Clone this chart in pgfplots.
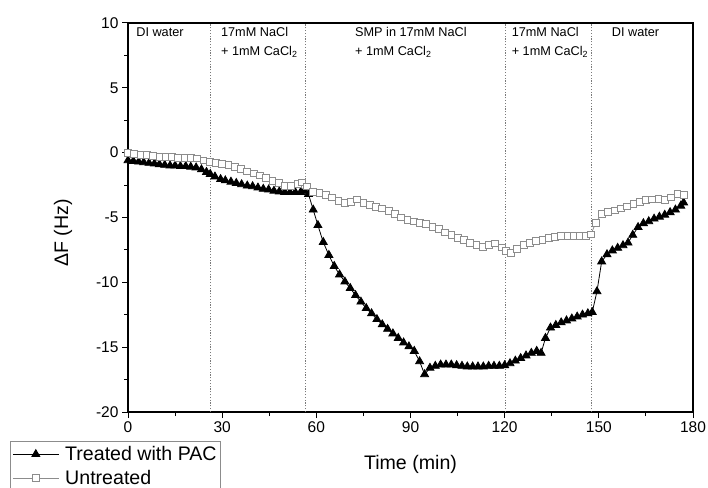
\documentclass[border=0pt]{standalone}
\usepackage{pgfplots}
\pgfplotsset{compat=1.18}
\usepackage{fontspec}
\setmainfont{Liberation Sans}
\definecolor{untr}{HTML}{8C8C8C}
\definecolor{vline}{HTML}{7A7A7A}
\begin{document}
\begin{tikzpicture}
\useasboundingbox (0,0) rectangle (708bp,488bp);
\begin{axis}[
  scale only axis, width=565bp, height=389bp,
  at={(128bp,76bp)}, anchor=south west,
  xmin=0, xmax=180, ymin=-20, ymax=10,
  xtick={0,30,...,180}, minor xtick={15,45,...,165},
  ytick={-20,-15,...,10}, minor ytick={-17.5,-12.5,...,7.5},
  xtick pos=bottom, ytick pos=left,
  tick align=outside,
  major tick length=6bp, minor tick length=4bp,
  every tick/.style={black, line width=1bp},
  axis line style={black, line width=1.2bp},
  /pgf/number format/assume math mode=true,
  tick label style={font=\fontsize{15.5bp}{18bp}\selectfont},
  xlabel={Time (min)},
  ylabel={ΔF (Hz)},
  xlabel style={font=\fontsize{19.6bp}{23bp}\selectfont, at={(axis description cs:0.5,-0.149)}, anchor=base},
  ylabel style={font=\fontsize{19.6bp}{23bp}\selectfont, at={(axis description cs:-0.115,0.46)}, anchor=center},
  legend style={at={(axis description cs:-0.2088,-0.0746)}, anchor=north west,
    draw=untr, line width=0.8bp, font=\fontsize{19.6bp}{23bp}\selectfont,
    inner xsep=2bp, inner ysep=3bp, row sep=4bp, cells={anchor=west},
    /tikz/every odd column/.append style={column sep=4bp}},
  legend image code/.code={
    \draw[mark repeat=2,mark phase=2] plot coordinates {(0bp,0bp)(23bp,0bp)(46bp,0bp)};
  },
  clip=false,
]
% region separators
\addplot[vline, dash pattern=on 1.2bp off 1.6bp, line width=0.8bp, forget plot] coordinates {(26.4,-20)(26.4,10)};
\addplot[vline, dash pattern=on 1.2bp off 1.6bp, line width=0.8bp, forget plot] coordinates {(56.4,-20)(56.4,10)};
\addplot[vline, dash pattern=on 1.2bp off 1.6bp, line width=0.8bp, forget plot] coordinates {(120.2,-20)(120.2,10)};
\addplot[vline, dash pattern=on 1.2bp off 1.6bp, line width=0.8bp, forget plot] coordinates {(147.7,-20)(147.7,10)};

% Treated with PAC
\addplot[black, line width=0.8bp, mark=triangle*, mark size=4.6bp, mark options={solid, fill=black}] coordinates {
(0,-0.6)(1.7,-0.65)(3.4,-0.7)(5,-0.75)(6.7,-0.8)(8.4,-0.85)(10,-0.9)(11.7,-0.95)(13.4,-1.0)(15,-1.0)
(16.7,-1.05)(18.4,-1.05)(20,-1.1)(21.7,-1.15)(23.4,-1.3)(25,-1.5)(26.2,-1.65)(27.7,-1.85)(29.5,-2.05)
(31,-2.15)(32.8,-2.25)(34.5,-2.35)(36.2,-2.45)(38,-2.55)(39.7,-2.6)(41.4,-2.7)(43.1,-2.8)(44.8,-2.85)
(46.5,-2.95)(48.2,-3.0)(49.9,-3.05)(51.6,-3.05)(53.3,-3.05)(55,-3.05)(56.2,-2.95)(57.5,-3.2)
(59,-4.4)(60.5,-5.6)(62.2,-6.9)(64,-7.9)(65.7,-8.75)(67.4,-9.4)(69.1,-9.95)(70.8,-10.45)(72.5,-11.0)
(74.2,-11.5)(75.9,-12.0)(77.6,-12.4)(79.3,-12.85)(81,-13.25)(82.7,-13.6)(84.4,-13.95)(86.1,-14.3)
(87.8,-14.65)(89.5,-14.95)(91.2,-15.3)(92.9,-16.1)(94.5,-17.1)(96.2,-16.6)(97.9,-16.45)(99.6,-16.35)
(101.3,-16.35)(103,-16.35)(104.7,-16.4)(106.4,-16.45)(108.1,-16.5)(109.8,-16.5)(111.5,-16.5)
(113.2,-16.5)(114.9,-16.45)(116.6,-16.45)(118.3,-16.45)(120,-16.4)(121.7,-16.25)(123.4,-16.05)
(125.1,-15.85)(126.8,-15.65)(128.5,-15.45)(130.2,-15.3)(131.6,-15.45)(133,-14.3)(134.6,-13.5)
(136.3,-13.3)(138,-13.1)(139.7,-12.95)(141.4,-12.8)(143.1,-12.65)(144.8,-12.5)(146.5,-12.4)
(147.9,-12.3)(149.4,-10.7)(150.9,-8.4)(152.6,-7.85)(154.3,-7.55)(156,-7.35)(157.7,-7.15)(159.3,-6.95)
(160.8,-6.35)(162.5,-5.75)(164.2,-5.45)(165.9,-5.3)(167.6,-5.1)(169.3,-4.95)(171,-4.8)(172.7,-4.6)
(174.4,-4.4)(176.1,-4.1)(177,-3.85)
};
\addlegendentry{Treated with PAC}

% Untreated
\addplot[untr, line width=0.8bp, mark=square*, mark size=3.4bp, mark options={solid, fill=white, draw=untr}] coordinates {
(0,0.0)(2,-0.1)(4,-0.15)(6,-0.2)(8,-0.25)(10,-0.3)(12,-0.35)(14,-0.35)(16,-0.4)(18,-0.4)(20,-0.4)
(22,-0.45)(24,-0.6)(26,-0.7)(28,-0.8)(30,-0.85)(32,-0.95)(34,-1.1)(36,-1.25)(38,-1.45)(40,-1.6)
(42,-1.75)(44,-1.95)(46,-2.15)(48,-2.35)(50,-2.55)(52,-2.55)(54,-2.4)(55.5,-2.3)(57,-2.6)(59,-3.0)
(61,-3.1)(63,-3.25)(65,-3.45)(67,-3.7)(69,-3.9)(71,-3.8)(73,-3.6)(75,-3.85)(77,-4.0)(79,-4.2)
(81,-4.3)(83,-4.5)(85,-4.7)(87,-5.0)(89,-5.2)(91,-5.3)(93,-5.4)(95,-5.5)(97,-5.7)(99,-5.9)
(101,-6.15)(103,-6.35)(105,-6.55)(107,-6.75)(109,-6.95)(111,-7.1)(113,-7.25)(115,-7.1)(117,-7.0)
(119,-7.3)(120.5,-7.6)(122,-7.7)(124,-7.4)(126,-7.1)(128,-6.95)(130,-6.8)(132,-6.7)(134,-6.6)
(136,-6.5)(138,-6.45)(140,-6.4)(142,-6.4)(144,-6.4)(146,-6.4)(147.5,-6.3)(149,-5.4)(151,-4.7)
(153,-4.55)(155,-4.45)(157,-4.3)(159,-4.15)(161,-3.95)(163,-3.8)(165,-3.65)(167,-3.6)(169,-3.55)
(171,-3.65)(173,-3.45)(175,-3.2)(177,-3.25)
};
\addlegendentry{Untreated}

% region labels
\node[anchor=base west, inner sep=0pt, font=\fontsize{12.7bp}{15bp}\selectfont] at (axis cs:2.6,8.92) {DI water};
\node[anchor=base west, inner sep=0pt, font=\fontsize{12.7bp}{15bp}\selectfont] at (axis cs:29.6,8.92) {17mM NaCl};
\node[anchor=base west, inner sep=0pt, font=\fontsize{12.7bp}{15bp}\selectfont] at (axis cs:29.6,7.53) {+ 1mM CaCl\textsubscript{2}};
\node[anchor=base west, inner sep=0pt, font=\fontsize{12.7bp}{15bp}\selectfont] at (axis cs:72.3,8.92) {SMP in 17mM NaCl};
\node[anchor=base west, inner sep=0pt, font=\fontsize{12.7bp}{15bp}\selectfont] at (axis cs:72.3,7.53) {+ 1mM CaCl\textsubscript{2}};
\node[anchor=base west, inner sep=0pt, font=\fontsize{12.7bp}{15bp}\selectfont] at (axis cs:122.2,8.92) {17mM NaCl};
\node[anchor=base west, inner sep=0pt, font=\fontsize{12.7bp}{15bp}\selectfont] at (axis cs:122.2,7.53) {+ 1mM CaCl\textsubscript{2}};
\node[anchor=base west, inner sep=0pt, font=\fontsize{12.7bp}{15bp}\selectfont] at (axis cs:154.1,8.92) {DI water};
\end{axis}
\end{tikzpicture}
\end{document}
